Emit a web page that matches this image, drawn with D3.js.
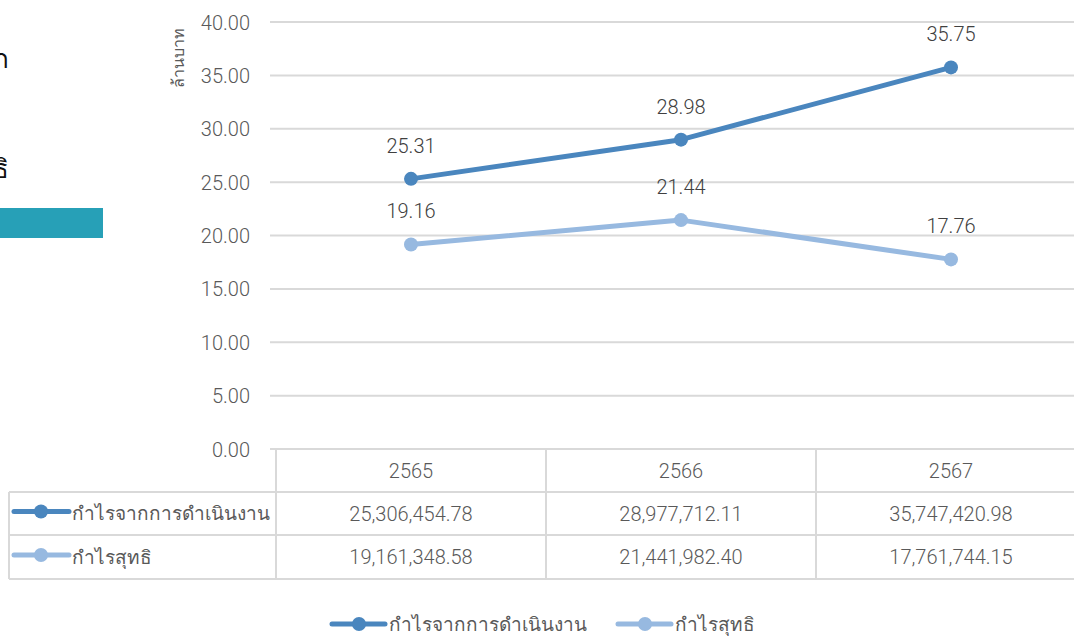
<!DOCTYPE html>
<html>
<head>
<meta charset="utf-8">
<script src="https://cdn.jsdelivr.net/npm/d3@7"></script>
<style>
  body { margin: 0; background: #fff; }
  svg { display: block; font-family: "Noto Sans", "Open Sans", sans-serif; }
  .num { font-family: Roboto, "Open Sans", sans-serif; font-weight: 300; }
</style>
</head>
<body>
<div id="chart"></div>
<script>
// data
var years = ["2565", "2566", "2567"];
var seriesNames = ["กำไรจากการดำเนินงาน", "กำไรสุทธิ"];
var opProfit = [25306454.78, 28977712.11, 35747420.98];
var netProfit = [19161348.58, 21441982.40, 17761744.15];
var yTicks = [0, 5, 10, 15, 20, 25, 30, 35, 40];
var colors = ["#4a86be", "#97b9e0"];

function init(){
  var w = 1074, h = 637;
  var svg = d3.select("#chart").append("svg")
    .attr("width", w).attr("height", h);

  var series = [
    { name: seriesNames[0], values: opProfit, color: colors[0] },
    { name: seriesNames[1], values: netProfit, color: colors[1] }
  ];

  // cut off bits of the page behind the chart (left side)
  svg.append("text").attr("x", 9).attr("y", 68).attr("text-anchor", "end")
    .style("font-size", "26px").style("fill", "#111").text("ก");
  svg.append("text").attr("x", 9).attr("y", 178).attr("text-anchor", "end")
    .style("font-size", "26px").style("fill", "#111").text("ธิ");
  svg.append("rect").attr("x", 0).attr("y", 208).attr("width", 103).attr("height", 30)
    .attr("fill", "#27a0b7");

  // scales
  var x = d3.scaleBand().domain(years).range([276, 1086]);
  var y = d3.scaleLinear().domain([0, 40]).range([449, 22]);

  // gridlines
  svg.append("g").selectAll("line").data(yTicks).enter().append("line")
    .attr("x1", 270).attr("x2", w)
    .attr("y1", function(d){ return y(d); })
    .attr("y2", function(d){ return y(d); })
    .attr("stroke", "#d9d9d9").attr("stroke-width", 2);

  // y axis labels
  var yAxis = d3.axisLeft(y).tickValues(yTicks).tickSize(0).tickPadding(0)
    .tickFormat(function(d){ return d3.format(".2f")(d); });
  var ga = svg.append("g").attr("transform", "translate(250,0)").call(yAxis);
  ga.select(".domain").remove();
  ga.selectAll("text").attr("dy", "0.35em").attr("class", "num")
    .style("font-size", "20px").style("fill", "#595959");

  svg.append("text")
    .attr("transform", "translate(184,58) rotate(-90)")
    .attr("text-anchor", "middle")
    .style("font-size", "16px").style("fill", "#595959")
    .text("ล้านบาท");

  // lines
  var line = d3.line()
    .x(function(d, i){ return x(years[i]) + x.bandwidth() / 2; })
    .y(function(d){ return y(d / 1e6); });

  series.forEach(function(s){
    svg.append("path").datum(s.values)
      .attr("d", line).attr("fill", "none")
      .attr("stroke", s.color).attr("stroke-width", 5)
      .attr("stroke-linejoin", "round");
    svg.append("g").selectAll("circle").data(s.values).enter().append("circle")
      .attr("cx", function(d, i){ return x(years[i]) + x.bandwidth() / 2; })
      .attr("cy", function(d){ return y(d / 1e6); })
      .attr("r", 7).attr("fill", s.color);
    svg.append("g").selectAll("text").data(s.values).enter().append("text")
      .attr("class", "num")
      .attr("x", function(d, i){ return x(years[i]) + x.bandwidth() / 2; })
      .attr("y", function(d){ return y(d / 1e6) - 33; })
      .attr("dy", "0.35em")
      .attr("text-anchor", "middle")
      .style("font-size", "20px").style("fill", "#404040")
      .text(function(d){ return d3.format(".2f")(d / 1e6); });
  });

  // data table
  var rowTop = [449, 492, 535, 579];
  var tbl = svg.append("g");
  var gridCol = "#d9d9d9";
  x.domain().forEach(function(yr){
    tbl.append("line").attr("x1", x(yr)).attr("x2", x(yr))
      .attr("y1", rowTop[0]).attr("y2", rowTop[3])
      .attr("stroke", gridCol).attr("stroke-width", 2);
    tbl.append("text").attr("class", "num")
      .attr("x", x(yr) + x.bandwidth() / 2).attr("y", (rowTop[0] + rowTop[1]) / 2)
      .attr("dy", "0.35em").attr("text-anchor", "middle")
      .style("font-size", "20px").style("fill", "#595959")
      .text(yr);
  });
  tbl.append("line").attr("x1", 1086).attr("x2", 1086)
    .attr("y1", rowTop[0]).attr("y2", rowTop[3])
    .attr("stroke", gridCol).attr("stroke-width", 2);
  tbl.append("line").attr("x1", 9).attr("x2", 9)
    .attr("y1", rowTop[1]).attr("y2", rowTop[3])
    .attr("stroke", gridCol).attr("stroke-width", 2);
  [1, 2, 3].forEach(function(k){
    tbl.append("line").attr("x1", 9).attr("x2", w)
      .attr("y1", rowTop[k]).attr("y2", rowTop[k])
      .attr("stroke", gridCol).attr("stroke-width", 2);
  });

  var fmt = d3.format(",.2f");
  series.forEach(function(s, k){
    var cy = (rowTop[k + 1] + rowTop[k + 2]) / 2;
    tbl.append("line").attr("x1", 14).attr("x2", 69)
      .attr("y1", cy - 2).attr("y2", cy - 2)
      .attr("stroke", s.color).attr("stroke-width", 5).attr("stroke-linecap", "round");
    tbl.append("circle").attr("cx", 41).attr("cy", cy - 2).attr("r", 7).attr("fill", s.color);
    tbl.append("text").attr("x", 72).attr("y", cy).attr("dy", "0.35em")
      .style("font-size", "19px").style("fill", "#595959")
      .text(s.name);
    tbl.selectAll(null).data(s.values).enter().append("text")
      .attr("class", "num")
      .attr("x", function(d, i){ return x(years[i]) + x.bandwidth() / 2; })
      .attr("y", cy).attr("dy", "0.35em").attr("text-anchor", "middle")
      .style("font-size", "20px").style("fill", "#595959")
      .text(function(d){ return fmt(d); });
  });

  // bottom legend
  var legX = [332, 618];
  series.forEach(function(s, k){
    var g = svg.append("g").attr("transform", "translate(" + legX[k] + ",624)");
    g.append("line").attr("x1", 0).attr("x2", 53).attr("y1", 0).attr("y2", 0)
      .attr("stroke", s.color).attr("stroke-width", 5).attr("stroke-linecap", "round");
    g.append("circle").attr("cx", 27).attr("cy", 0).attr("r", 7).attr("fill", s.color);
    g.append("text").attr("x", 57).attr("y", 0).attr("dy", "0.35em")
      .style("font-size", "19px").style("fill", "#595959")
      .text(s.name);
  });
}
window.onload = init;
</script>
</body>
</html>
